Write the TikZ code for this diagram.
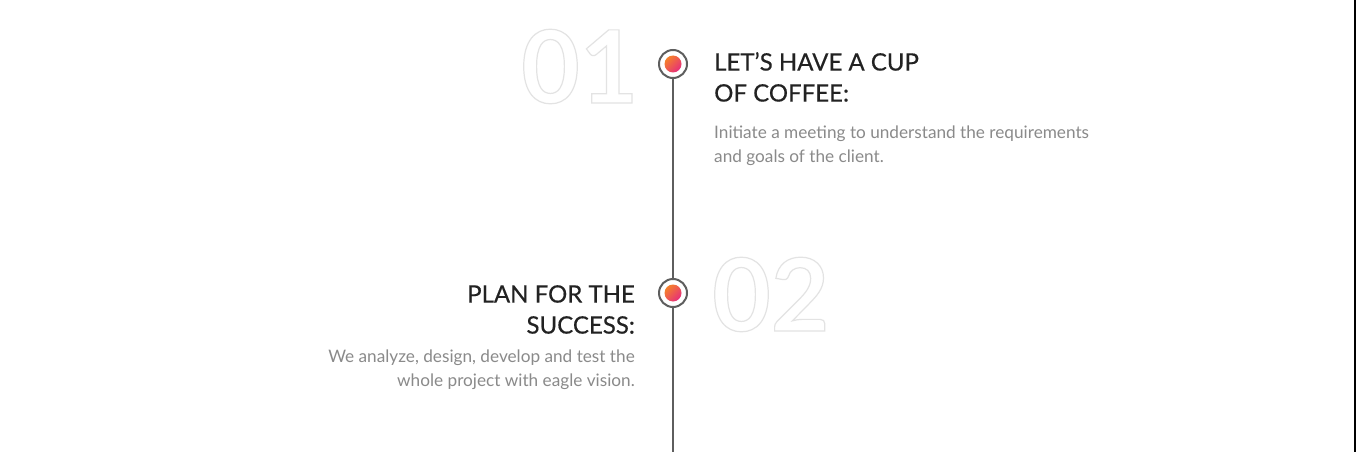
\documentclass[tikz,border=0pt]{standalone}
\usepackage{fontspec}
\setmainfont{Lato}
\newfontfamily\headfont{Lato}[FakeBold=0.4]
\definecolor{headc}{HTML}{222222}
\definecolor{bodyc}{HTML}{8A8A8A}
\definecolor{numc}{HTML}{E3E3E3}
\definecolor{linec}{HTML}{5E5E5E}
\definecolor{dotA}{HTML}{F5802A}
\definecolor{dotB}{HTML}{E62E7B}
\tikzset{
  ring/.style={circle, draw=linec, line width=2pt, fill=white, minimum size=28pt, inner sep=0pt},
  dotnode/.style={circle, minimum size=17pt, inner sep=0pt, left color=dotA, right color=dotB, shading angle=45},
  tl/.style={draw=linec, line width=2pt},
  headtxt/.style={inner sep=0pt, text=headc, font=\headfont\fontsize{24}{31}\selectfont},
  bodytxt/.style={inner sep=0pt, text=bodyc, font=\fontsize{17.2}{24}\selectfont},
  numtxt/.style={inner sep=0pt, text=numc, font=\fontsize{101}{101}\selectfont\bfseries},
}
\newcommand{\outl}[1]{\special{pdf:literal direct 1 Tr 1.2 w}#1\special{pdf:literal direct 0 Tr}}
\begin{document}
\begin{tikzpicture}[x=1pt,y=-1pt]
\useasboundingbox (0,0) rectangle (1357,452);
\fill[white] (0,0) rectangle (1357,452);
\draw[line width=2pt, black] (1355,0) -- (1355,452);
% numbers
\node[numtxt, anchor=base west] (n1) at (521,103) {\outl{01}};
\node[numtxt, anchor=base west] (n2) at (712,331) {\outl{02}};
% rings
\node[ring] (c1) at (673,64) {};
\node[dotnode] (d1) at (c1.center) {};
\node[ring] (c2) at (673,293) {};
\node[dotnode] (d2) at (c2.center) {};
\coordinate (bot) at (673,452);
\draw[tl] (c1.south) -- (c2.north);
\draw[tl] (c2.south) -- (bot);
% texts
\node[headtxt, anchor=north west, align=left] (h1) at (714,52) {LET’S HAVE A CUP\\OF COFFEE:};
\node[bodytxt, anchor=north west, align=left] (b1) at (714,126) {Initiate a meeting to understand the requirements\\and goals of the client.};
\node[headtxt, anchor=north east, align=right] (h2) at (635,285) {PLAN FOR THE\\SUCCESS:};
\node[bodytxt, anchor=north east, align=right] (b2) at (635,350) {We analyze, design, develop and test the\\whole project with eagle vision.};
\end{tikzpicture}
\end{document}
